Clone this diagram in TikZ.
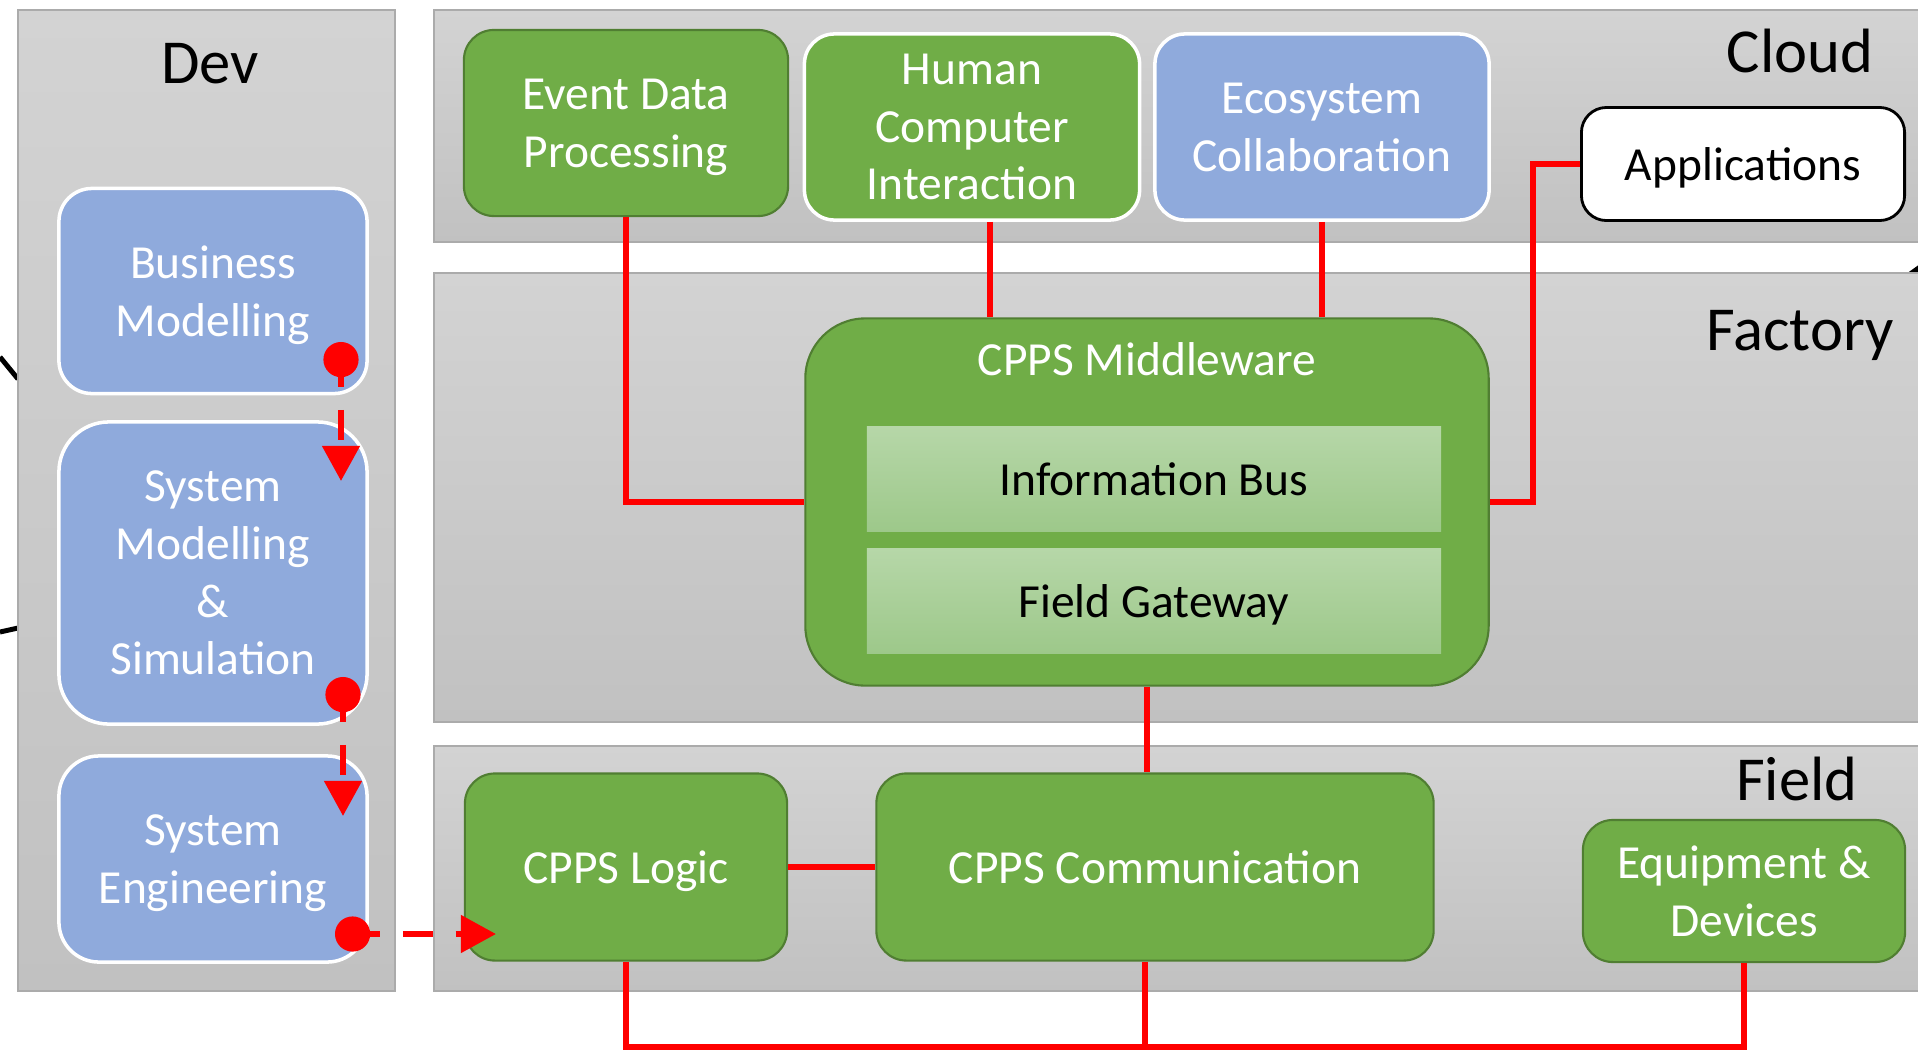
\documentclass[tikz,border=0pt]{standalone}
\usepackage{fontspec}
\setmainfont{Carlito}
\usetikzlibrary{positioning, arrows.meta}

\definecolor{panelhi}{HTML}{D3D3D3}
\definecolor{panello}{HTML}{C1C1C1}
\definecolor{panelline}{HTML}{ABABAB}
\definecolor{leaf}{HTML}{70AD47}
\definecolor{leafdark}{HTML}{507E32}
\definecolor{sky}{HTML}{8FAADC}
\definecolor{bushi}{HTML}{B6D7A8}
\definecolor{buslo}{HTML}{9DC88A}

\begin{document}
\begin{tikzpicture}[x=0.01cm, y=-0.01cm, font=\fontsize{13.5}{16.4}\selectfont]
    \tikzstyle{layer}=[draw=panelline, line width=0.5pt, top color=panelhi, bottom color=panello]
    \tikzstyle{title}=[anchor=base, font=\fontsize{17.8}{21}\selectfont]
    \tikzstyle{bluebox}=[rectangle, rounded corners=0.33cm, fill=sky, draw=white, line width=1pt, text=white, align=center, text depth=0pt, minimum width=3.08cm]
    \tikzstyle{greenbox}=[rectangle, rounded corners=0.3cm, fill=leaf, draw=leafdark, line width=0.6pt, text=white, align=center, text depth=0pt]
    \tikzstyle{layerbox}=[rectangle, top color=bushi, bottom color=buslo, minimum width=5.74cm, minimum height=1.05cm, text=black, text depth=0pt]
    \tikzstyle{wire}=[draw=red, line width=1.45pt]
    \tikzstyle{flow}=[red, line width=1.8pt, dash pattern=on 8.5pt off 6.5pt, dash phase=4.8pt, {Circle[length=10pt]}-{Triangle[length=10pt, width=10.4pt]}]
    \clip (0,0) rectangle (1918,1051);

    % bits of curves coming in from outside
    \draw[line width=1.4pt] (0,357) -- (18,379);
    \draw[line width=1.4pt] (0,632) -- (18,628);
    \fill (1906,274) -- (1920,264) -- (1920,274) -- cycle;

    % the four layers
    \path[layer] (18,10) rectangle (395,991);
    \path[layer] (434,10) rectangle (1930,242);
    \path[layer] (434,273) rectangle (1930,722);
    \path[layer] (434,746) rectangle (1930,991);
    \node[title] (dev) at (210,83) {Dev};
    \node[title] (cloud) at (1800,72) {Cloud};
    \node[title] (factory) at (1800,350) {Factory};
    \node[title] (field) at (1797,800) {Field};

    % Dev
    \node[bluebox, minimum height=2.05cm] (bm) at (213,291) {Business\\Modelling};
    \node[bluebox, minimum height=3.02cm, rounded corners=0.5cm] (sms) at (213,573) {System\\Modelling\\\&\\Simulation};
    \node[bluebox, minimum height=2.06cm, rounded corners=0.4cm] (se) at (213,859) {System\\Engineering};

    % Cloud
    \node[greenbox, minimum width=3.24cm, minimum height=1.86cm] (edp) at (626,123) {Event Data\\Processing};
    \node[greenbox, draw=white, line width=1pt, minimum width=3.35cm, minimum height=1.86cm] (hci) at (972,127) {Human\\Computer\\Interaction};
    \node[bluebox, minimum width=3.34cm, minimum height=1.86cm, rounded corners=0.3cm] (eco) at (1322,127) {Ecosystem\\Collaboration};
    \node[draw=black, fill=white, rounded corners=0.25cm, line width=0.8pt, text depth=0pt, minimum width=3.23cm, minimum height=1.13cm] (app) at (1743,164) {Applications};

    % Factory
    \node[greenbox, minimum width=6.83cm, minimum height=3.67cm, rounded corners=0.6cm] (mw) at (1147,502) {};
    \node[anchor=base, text=white] (mwtitle) at (1147,375) {CPPS Middleware};
    \node[layerbox] (ib) at (1154,479) {Information Bus};
    \node[layerbox] (fg) at (1154,601) {Field Gateway};

    % Field
    \node[greenbox, minimum width=3.22cm, minimum height=1.87cm] (logic) at (626,867) {CPPS Logic};
    \node[greenbox, minimum width=5.57cm, minimum height=1.87cm] (comm) at (1155,867) {CPPS Communication};
    \node[greenbox, minimum width=3.22cm, minimum height=1.42cm] (equip) at (1744,891) {Equipment \&\\Devices};

    % wiring
    \draw[wire] (edp.south) |- (mw.west);
    \draw[wire] ([xshift=1.8mm]hci.south) -- ([xshift=1.8mm]hci.south |- mw.north);
    \draw[wire] (eco.south) -- (eco.south |- mw.north);
    \draw[wire] (app.west) -- ++(-47,0) |- (mw.east);
    \draw[wire] (mw.south) -- (mw.south |- comm.north);
    \draw[wire] (logic.east) -- (comm.west);
    \coordinate (bus) at (0,1047);
    \draw[wire] (logic.south) -- (logic.south |- bus) -| (equip.south);
    \draw[wire] ([xshift=-1mm]comm.south) -- ([xshift=-1mm]comm.south |- bus);

    % dev flow
    \coordinate (bmout) at (341,342);
    \coordinate (smsin) at (341,481);
    \coordinate (smsout) at (343,677);
    \coordinate (sein) at (343,816);
    \coordinate (seout) at (335,934);
    \coordinate (logicin) at (496,934);
    \draw[flow] (bmout) -- (smsin);
    \draw[flow] (smsout) -- (sein);
    \draw[flow] (seout) -- (logicin);
\end{tikzpicture}
\end{document}
